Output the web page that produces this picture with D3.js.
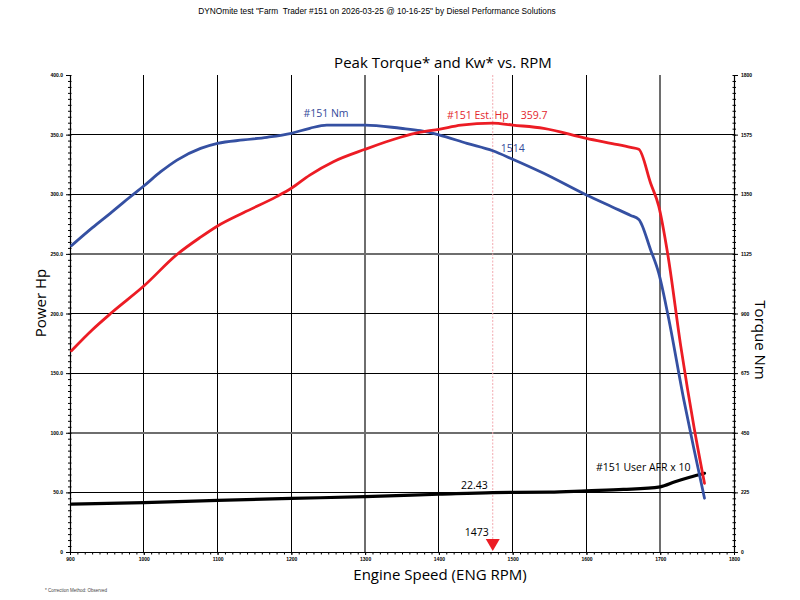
<!DOCTYPE html>
<html>
<meta charset="utf-8">
<head>
  <title>Peak Torque and Kw vs. RPM</title>
</head>
<style>
  body { margin: 0; background: #fff; }
  svg { display: block; }
  .tick text { font-family: "Liberation Sans Narrow", sans-serif; font-size: 5px; font-weight: bold; }
  .domain { stroke: #000; stroke-width: 1.2; }
  .tick line { stroke: #000; }
  .grid line { stroke: #000; stroke-width: 1; shape-rendering: crispEdges; }
  .grid line.soft { stroke: #6e6e6e; stroke-width: 2; }
  .serie { fill: none; stroke-linejoin: round; stroke-linecap: round; }
  .lbl { font-family: "Open Sans", sans-serif; }
</style>
<script src="https://d3js.org/d3.v7.min.js"></script>
<body>
<svg width="800" height="600"></svg>
<script>
// engine speed for each series (rpm)
var hpRpm = [902, 930, 957, 1000, 1045, 1077, 1100, 1135, 1180, 1200, 1225, 1257, 1300, 1348, 1375, 1400, 1430, 1473, 1500, 1542, 1600, 1635, 1660, 1671, 1687, 1698, 1710, 1728, 1746, 1760];
var hp    = [168.8, 186.2, 201.0, 223.0, 249.5, 264.0, 273.4, 284.5, 298.0, 305.0, 316.1, 327.3, 337.7, 347.8, 352.0, 354.5, 358.0, 359.7, 358.0, 355.3, 346.9, 342.5, 339.3, 337.7, 309.2, 290.0, 250.5, 172.0, 104.0, 57.6];

var nmRpm = [902, 930, 955, 982, 1000, 1023, 1045, 1077, 1100, 1135, 1167, 1200, 1225, 1248, 1300, 1348, 1375, 1400, 1438, 1473, 1500, 1542, 1600, 1635, 1660, 1671, 1687, 1698, 1710, 1732, 1746, 1760];
var nm    = [1156, 1223, 1279, 1341, 1381, 1435, 1479, 1523, 1542, 1555, 1565, 1580, 1599, 1611, 1611, 1599, 1590, 1574, 1542, 1514, 1482, 1429, 1347, 1302, 1270, 1255, 1140, 1052, 901, 574, 385, 203];

var afrRpm = [902, 1000, 1100, 1200, 1300, 1400, 1473, 1550, 1600, 1650, 1700, 1720, 1740, 1760];
var afr    = [18.1, 18.6, 19.5, 20.2, 20.9, 21.8, 22.43, 22.6, 23.1, 23.6, 24.6, 26.5, 28.2, 29.7];

var rpmTicks = [900, 1000, 1100, 1200, 1300, 1400, 1500, 1600, 1700, 1800];
var hpTicks  = [0, 50, 100, 150, 200, 250, 300, 350, 400];
var nmTicks  = [0, 225, 450, 675, 900, 1125, 1350, 1575, 1800];

var peakRpm = 1473, peakHp = 359.7, peakNm = 1514, peakAfr = 22.43;

var svg = d3.select("svg");

var x = d3.scaleLinear().domain([900, 1800]).range([70, 734]);
var yHp = d3.scaleLinear().domain([0, 400]).range([552, 75]);
var yNm = d3.scaleLinear().domain([0, 1800]).range([552, 75]);

// header texts
svg.append("text")
    .attr("x", 377).attr("y", 14)
    .attr("text-anchor", "middle")
    .style("font-family", "'Liberation Sans Narrow', sans-serif")
    .style("font-size", "8.3px")
    .style("white-space", "pre")
    .text('DYNOmite test "Farm  Trader #151 on 2026-03-25 @ 10-16-25" by Diesel Performance Solutions');

svg.append("text")
    .attr("class", "lbl")
    .attr("x", 443).attr("y", 68)
    .attr("text-anchor", "middle")
    .style("font-size", "15px")
    .text("Peak Torque* and Kw* vs. RPM");

// grid
var softX = [1300, 1700], softY = [100, 250];
var grid = svg.append("g").attr("class", "grid");
grid.selectAll(".gx")
  .data(rpmTicks.slice(1, -1))
  .enter().append("line")
    .attr("class", function(d) { return softX.indexOf(d) >= 0 ? "soft" : null; })
    .attr("x1", function(d) { return x(d); })
    .attr("x2", function(d) { return x(d); })
    .attr("y1", yHp(400)).attr("y2", yHp(0));
grid.selectAll(".gy")
  .data(hpTicks.slice(1, -1))
  .enter().append("line")
    .attr("class", function(d) { return softY.indexOf(d) >= 0 ? "soft" : null; })
    .attr("x1", x(900)).attr("x2", x(1800))
    .attr("y1", function(d) { return yHp(d); })
    .attr("y2", function(d) { return yHp(d); });

// peak marker line
svg.append("line")
    .attr("x1", x(peakRpm)).attr("x2", x(peakRpm))
    .attr("y1", yHp(400)).attr("y2", yHp(0) - 12)
    .attr("stroke", "#f2a9b0")
    .attr("stroke-width", 1)
    .attr("stroke-dasharray", "2,1.5");

// axes
function fmtHp(d) { return d === 0 ? "0" : d3.format(".1f")(d); }

svg.append("g")
    .attr("transform", "translate(" + x(900) + ",0)")
    .call(d3.axisLeft(yHp).tickValues(d3.range(0, 401, 5)).tickSize(2).tickFormat(""))
    .call(function(g) { g.selectAll(".tick line").attr("x2", -2).attr("x1", 1.5); g.select(".domain").remove(); });
svg.append("g")
    .attr("transform", "translate(" + x(900) + ",0)")
    .call(d3.axisLeft(yHp).tickValues(hpTicks).tickSize(4).tickSizeOuter(0).tickPadding(3).tickFormat(fmtHp));

svg.append("g")
    .attr("transform", "translate(" + x(1800) + ",0)")
    .call(d3.axisRight(yNm).tickValues(d3.range(0, 1801, 22.5)).tickSize(2).tickFormat(""))
    .call(function(g) { g.selectAll(".tick line").attr("x1", -1.5).attr("x2", 2); g.select(".domain").remove(); });
svg.append("g")
    .attr("transform", "translate(" + x(1800) + ",0)")
    .call(d3.axisRight(yNm).tickValues(nmTicks).tickSize(4).tickSizeOuter(0).tickPadding(3).tickFormat(d3.format("d")));

svg.append("g")
    .attr("transform", "translate(0," + yHp(0) + ")")
    .call(d3.axisBottom(x).tickValues(d3.range(900, 1801, 10)).tickSize(2.5).tickFormat(""))
    .call(function(g) { g.select(".domain").remove(); });
svg.append("g")
    .attr("transform", "translate(0," + yHp(0) + ")")
    .call(d3.axisBottom(x).tickValues(rpmTicks).tickSize(3).tickSizeOuter(0).tickPadding(2).tickFormat(d3.format("d")));

// axis titles
svg.append("text")
    .attr("class", "lbl")
    .attr("transform", "translate(46,303) rotate(-90)")
    .attr("text-anchor", "middle")
    .style("font-size", "15px")
    .text("Power Hp");
svg.append("text")
    .attr("class", "lbl")
    .attr("transform", "translate(755,340) rotate(90)")
    .attr("text-anchor", "middle")
    .style("font-size", "15px")
    .text("Torque Nm");
svg.append("text")
    .attr("class", "lbl")
    .attr("x", 440).attr("y", 580)
    .attr("text-anchor", "middle")
    .style("font-size", "15px")
    .text("Engine Speed (ENG RPM)");

svg.append("text")
    .attr("x", 45).attr("y", 592)
    .style("font-family", "'Liberation Sans', sans-serif")
    .style("font-size", "4.5px")
    .attr("fill", "#444")
    .text("* Correction Method: Observed");

// series
var lineHp = d3.line()
    .x(function(d) { return x(d[0]); })
    .y(function(d) { return yHp(d[1]); })
    .curve(d3.curveMonotoneX);
var lineNm = d3.line()
    .x(function(d) { return x(d[0]); })
    .y(function(d) { return yNm(d[1]); })
    .curve(d3.curveMonotoneX);

svg.append("path")
    .datum(d3.zip(afrRpm, afr.map(function(v) { return v * 10; })))
    .attr("class", "serie")
    .attr("stroke", "#000")
    .attr("stroke-width", 3.2)
    .attr("d", lineNm);

svg.append("path")
    .datum(d3.zip(nmRpm, nm))
    .attr("class", "serie")
    .attr("stroke", "#3550a2")
    .attr("stroke-width", 2.8)
    .attr("d", lineNm);

svg.append("path")
    .datum(d3.zip(hpRpm, hp))
    .attr("class", "serie")
    .attr("stroke", "#ec1c24")
    .attr("stroke-width", 2.8)
    .attr("d", lineHp);

// peak triangle
var tx = x(peakRpm), ty = yHp(0);
svg.append("path")
    .attr("d", d3.line()([[tx - 7, ty - 13], [tx + 7, ty - 13], [tx, ty - 1]]) + "Z")
    .attr("fill", "#ec1c24");

// labels
svg.append("text").attr("class", "lbl")
    .attr("x", x(1247)).attr("y", yNm(1640))
    .attr("text-anchor", "middle")
    .attr("fill", "#34499a").style("font-size", "10.5px")
    .text("#151 Nm");
svg.append("text").attr("class", "lbl")
    .attr("x", x(peakRpm) + 16).attr("y", yHp(peakHp) - 4)
    .attr("text-anchor", "end")
    .attr("fill", "#e3262d").style("font-size", "10.5px")
    .text("#151 Est. Hp");
svg.append("text").attr("class", "lbl")
    .attr("x", x(peakRpm) + 28).attr("y", yHp(peakHp) - 4)
    .attr("fill", "#e3262d").style("font-size", "10.5px")
    .text(peakHp.toFixed(1));
svg.append("text").attr("class", "lbl")
    .attr("x", x(peakRpm) + 8).attr("y", yNm(peakNm) + 1)
    .attr("fill", "#34499a").style("font-size", "10.5px")
    .text(peakNm);
svg.append("text").attr("class", "lbl")
    .attr("x", x(peakRpm) - 5).attr("y", yNm(peakAfr * 10) - 4)
    .attr("text-anchor", "end")
    .attr("fill", "#000").style("font-size", "10.5px")
    .text(peakAfr.toFixed(2));
svg.append("text").attr("class", "lbl")
    .attr("x", x(1760) - 14).attr("y", yNm(afr[afr.length - 1] * 10) - 2)
    .attr("text-anchor", "end")
    .attr("fill", "#000").style("font-size", "10.5px")
    .text("#151 User AFR x 10");
svg.append("text").attr("class", "lbl")
    .attr("x", x(peakRpm) - 4).attr("y", ty - 16)
    .attr("text-anchor", "end")
    .attr("fill", "#000").style("font-size", "10.5px")
    .text(peakRpm);
</script>
</body>
</html>
